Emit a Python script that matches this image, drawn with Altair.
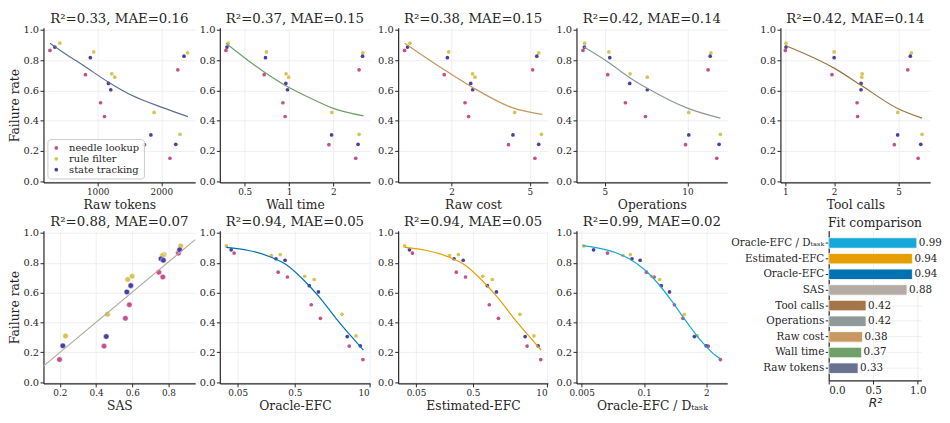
import altair as alt
import pandas as pd

# ---------------- data ----------------
TASKS = ["needle lookup", "rule filter", "state tracking"]
TASK_COLORS = ["#C4508C", "#D9C355", "#4B3FA3"]

task_col = ["needle lookup"] * 7 + ["rule filter"] * 7 + ["state tracking"] * 7
failure_rate = [0.865, 0.737, 0.705, 0.519, 0.428, 0.242, 0.152,
                0.913, 0.855, 0.849, 0.710, 0.688, 0.455, 0.310,
                0.887, 0.827, 0.817, 0.647, 0.605, 0.306, 0.244]

raw_tokens = [251, 2259, 808, 1046, 1108, 1737, 2135,
              406, 938, 2413, 1222, 1268, 1887, 2294,
              328, 2356, 885, 1170, 1206, 1836, 2227]
wall_time = [0.373, 2.99, 0.678, 0.908, 0.941, 1.866, 2.837,
             0.386, 0.703, 3.17, 0.955, 0.995, 1.954, 2.99,
             0.379, 3.158, 0.692, 0.951, 0.976, 1.945, 2.944]
raw_cost = [1.154, 5.16, 1.834, 2.34, 2.44, 3.89, 5.30,
            1.228, 1.932, 5.54, 2.556, 2.63, 4.18, 5.72,
            1.194, 5.42, 1.903, 2.50, 2.56, 4.10, 5.54]
operations = [4.16, 11.89, 5.12, 5.94, 7.03, 9.84, 12.79,
              4.22, 5.17, 12.18, 6.18, 7.14, 10.11, 13.18,
              4.21, 12.10, 5.21, 6.16, 7.14, 10.11, 13.04]
tool_calls = [1.00, 5.69, 1.94, 2.77, 2.79, 4.70, 6.59,
              1.01, 2.00, 5.99, 2.98, 2.96, 4.93, 6.97,
              1.01, 5.90, 2.00, 2.93, 2.93, 4.93, 6.84]
sas = [0.855, 0.747, 0.769, 0.584, 0.562, 0.444, 0.198,
       0.868, 0.776, 0.767, 0.599, 0.575, 0.463, 0.231,
       0.862, 0.759, 0.772, 0.592, 0.570, 0.456, 0.216]
oracle_efc = [0.0432, 0.255, 0.370, 0.966, 1.40, 4.46, 7.75,
              0.0316, 0.277, 0.194, 0.742, 1.089, 3.33, 5.88,
              0.0384, 0.233, 0.337, 0.894, 1.29, 4.12, 6.97]
estimated_efc = [0.0432, 0.255, 0.370, 0.966, 1.40, 4.46, 7.75,
                 0.0316, 0.277, 0.194, 0.742, 1.089, 3.33, 5.88,
                 0.0384, 0.233, 0.337, 0.894, 1.29, 4.12, 6.97]
oracle_efc_per_d = [0.0173, 0.112, 0.163, 0.4295, 0.6457, 2.19, 3.91,
                    0.00553, 0.0518, 0.0362, 0.1436, 0.212, 0.687, 1.289,
                    0.00885, 0.0561, 0.0829, 0.2297, 0.3394, 1.119, 1.967]

# fitted curves
fit_tokens_x = [251, 520, 777, 1170, 1551, 2000, 2418]
fit_tokens_y = [0.913, 0.835, 0.765, 0.655, 0.565, 0.49, 0.427]
fit_wall_x = [0.373, 0.678, 0.951, 1.38, 1.954, 3.21]
fit_wall_y = [0.913, 0.722, 0.631, 0.552, 0.485, 0.432]
fit_cost_x = [1.154, 1.834, 2.52, 4.10, 5.78]
fit_cost_y = [0.913, 0.737, 0.625, 0.485, 0.442]
fit_ops_x = [4.2, 5.21, 6.16, 7.14, 10.1, 13.18]
fit_ops_y = [0.887, 0.78, 0.685, 0.615, 0.48, 0.417]
fit_tools_x = [1.0, 2.0, 2.93, 4.93, 6.97]
fit_tools_y = [0.898, 0.748, 0.635, 0.481, 0.417]
fit_sas_x = [0.109, 0.948]
fit_sas_y = [0.108, 0.955]
fit_efc_x = [0.0316, 0.187, 0.36, 0.697, 1.34, 2.595, 5.03, 7.9]
fit_efc_y = [0.903, 0.839, 0.785, 0.688, 0.570, 0.43, 0.30, 0.215]
fit_d_x = [0.00527, 0.0125, 0.025, 0.05, 0.1, 0.2, 0.4, 0.8, 1.6, 3.2, 3.91]
fit_d_y = [0.915, 0.895, 0.869, 0.825, 0.757, 0.658, 0.533, 0.397, 0.272, 0.175, 0.158]

bar_metrics = ["Oracle-EFC / D\u209c\u2090\u209b\u2096", "Estimated-EFC", "Oracle-EFC", "SAS",
               "Tool calls", "Operations", "Raw cost", "Wall time", "Raw tokens"]
bar_r2 = [0.99, 0.94, 0.94, 0.88, 0.42, 0.42, 0.38, 0.37, 0.33]
bar_colors = ["#17A8DA", "#E69F00", "#0072B2", "#B4ACA4", "#A5754A",
              "#8E9A9A", "#C99861", "#6FA06A", "#66728F"]

SERIF = "DejaVu Serif"
YDOM = [-0.008, 1.015]
YTICKS = [0, 0.2, 0.4, 0.6, 0.8, 1.0]
H1 = 157
H2 = 155


def scatter_panel(xvals, xtitle, stype, domain, ticks, lx, ly, lcolor, title,
                  width, height, ytitle=False, legend=False, big=False, fmt="~g"):
    df = pd.DataFrame({"x": xvals, "y": failure_rate, "task": task_col})
    ldf = pd.DataFrame({"x": lx, "y": ly})
    xs = alt.Scale(type=stype, domain=domain, nice=False, zero=False)
    ys = alt.Scale(domain=YDOM, nice=False, zero=False)
    xaxis = alt.Axis(values=ticks, tickCount=20, format=fmt, title=xtitle, labelOverlap=False)
    if ytitle:
        yaxis = alt.Axis(values=YTICKS, tickCount=20, format=".1f", title="Failure rate",
                         labelOverlap=False, titlePadding=1.5)
    else:
        yaxis = alt.Axis(values=YTICKS, tickCount=20, format=".1f", title=None,
                         labelOverlap=False)
    if legend:
        leg = alt.Legend(orient="bottom-left", title=None, offset=4, padding=4,
                         strokeColor="#cccccc", fillColor="rgba(255,255,255,0.85)",
                         cornerRadius=3, labelFont=SERIF, labelFontSize=10,
                         labelColor="#262626", symbolSize=14, symbolType="circle",
                         symbolStrokeWidth=0, rowPadding=1, labelOffset=8)
    else:
        leg = None
    if big:
        pts = alt.Chart(df).mark_point(filled=True, size=32, opacity=1, stroke="white",
                                       strokeWidth=0.5)
    else:
        pts = alt.Chart(df).mark_point(filled=True, size=14, opacity=1)
    pts = pts.encode(
        x=alt.X("x:Q", scale=xs, axis=xaxis),
        y=alt.Y("y:Q", scale=ys, axis=yaxis),
        color=alt.Color("task:N", scale=alt.Scale(domain=TASKS, range=TASK_COLORS), legend=leg),
    )
    line = alt.Chart(ldf).mark_line(color=lcolor, strokeWidth=1.2, interpolate="monotone").encode(
        x=alt.X("x:Q", scale=xs),
        y=alt.Y("y:Q", scale=ys),
    )
    return alt.layer(pts, line).properties(
        width=width, height=height,
        title=alt.TitleParams(title, offset=0),
    )


def spacer(w, h):
    return alt.Chart(pd.DataFrame({"v": [0]})).mark_point(opacity=0).encode(
        x=alt.X("v:Q", axis=None), y=alt.Y("v:Q", axis=None)
    ).properties(width=w, height=h)


p1 = scatter_panel(raw_tokens, "Raw tokens", "linear", [149, 2532], [1000, 2000],
                   fit_tokens_x, fit_tokens_y, "#5F6E8E", "R\u00b2=0.33, MAE=0.16", 154, H1,
                   ytitle=True, legend=True, fmt="d")
p2 = scatter_panel(wall_time, "Wall time", "log", [0.339, 3.55], [0.5, 1, 2],
                   fit_wall_x, fit_wall_y, "#6E9E68", "R\u00b2=0.37, MAE=0.15", 152.5, H1)
p3 = scatter_panel(raw_cost, "Raw cost", "log", [1.07, 6.17], [2, 5],
                   fit_cost_x, fit_cost_y, "#C8965E", "R\u00b2=0.38, MAE=0.15", 152, H1)
p4 = scatter_panel(operations, "Operations", "log", [3.94, 13.96], [5, 10],
                   fit_ops_x, fit_ops_y, "#8C9898", "R\u00b2=0.42, MAE=0.14", 153, H1)
p5 = scatter_panel(tool_calls, "Tool calls", "log", [0.933, 7.82], [1, 2, 5],
                   fit_tools_x, fit_tools_y, "#A0703F", "R\u00b2=0.42, MAE=0.14", 152, H1)

q1 = scatter_panel(sas, "SAS", "linear", [0.109, 0.948], [0.2, 0.4, 0.6, 0.8],
                   fit_sas_x, fit_sas_y, "#B3ABA3", "R\u00b2=0.88, MAE=0.07", 154, H2,
                   ytitle=True, big=True, fmt=".1f")
q2 = scatter_panel(oracle_efc, "Oracle-EFC", "log", [0.0243, 10.34], [0.05, 0.5, 10],
                   fit_efc_x, fit_efc_y, "#0072B2", "R\u00b2=0.94, MAE=0.05", 152.5, H2)
q3 = scatter_panel(estimated_efc, "Estimated-EFC", "log", [0.0243, 10.34], [0.05, 0.5, 10],
                   fit_efc_x, fit_efc_y, "#E69F00", "R\u00b2=0.94, MAE=0.05", 152, H2)
q4 = scatter_panel(oracle_efc_per_d, "Oracle-EFC / D\u209c\u2090\u209b\u2096", "log", [0.0039, 5.43],
                   [0.005, 0.1, 2], fit_d_x, fit_d_y, "#17A8DA", "R\u00b2=0.99, MAE=0.02", 153, H2)

bar_df = pd.DataFrame({"metric": bar_metrics, "r2": bar_r2})
ysc = alt.Scale(domain=bar_metrics, paddingInner=0.33, paddingOuter=0.45)
xsc = alt.Scale(domain=[0, 1.04], nice=False, zero=True)
bars = alt.Chart(bar_df).mark_bar(stroke="white", strokeWidth=0.8).encode(
    y=alt.Y("metric:N", sort=bar_metrics, scale=ysc,
            axis=alt.Axis(title=None, labelFontSize=10.5, grid=True, labelOverlap=False)),
    x=alt.X("r2:Q", scale=xsc,
            axis=alt.Axis(values=[0, 0.5, 1.0], tickCount=20, format=".1f", title="R\u00b2",
                          labelFontSize=10.5, titleFont="DejaVu Sans",
                          titleFontStyle="italic", titlePadding=1, labelOverlap=False)),
    color=alt.Color("metric:N", scale=alt.Scale(domain=bar_metrics, range=bar_colors), legend=None),
)
labels = alt.Chart(bar_df).mark_text(align="left", dx=2, font=SERIF, fontSize=10.5,
                                      color="#262626").encode(
    y=alt.Y("metric:N", sort=bar_metrics, scale=ysc),
    x=alt.X("r2:Q", scale=xsc),
    text=alt.Text("r2:Q", format=".2f"),
)
barchart = alt.layer(bars, labels).properties(
    width=94, height=152, title=alt.TitleParams("Fit comparison", offset=1, fontSize=12.5)
)

row1 = alt.HConcatChart(
    hconcat=[p1, spacer(25, H1), p2, spacer(27.7, H1), p3, spacer(28.6, H1), p4,
             spacer(53.4, H1), p5],
    spacing=0, bounds="flush",
).resolve_scale(color="independent").resolve_legend(color="independent")
row2 = alt.HConcatChart(
    hconcat=[q1, spacer(25, H2), q2, spacer(27.7, H2), q3, spacer(28.6, H2), q4,
             spacer(102.8, H2), barchart],
    spacing=0, bounds="flush",
).resolve_scale(color="independent").resolve_legend(color="independent")

chart = alt.VConcatChart(vconcat=[row1, row2], spacing=3).resolve_scale(
    color="independent").resolve_legend(color="independent").properties(
    padding={"left": 0, "top": 0, "right": 0, "bottom": 0}
).configure_view(stroke=None).configure_axis(
    domainColor="#262626", tickColor="#262626", labelColor="#262626",
    titleColor="#262626", gridColor="#ebebeb", gridWidth=0.8,
    labelFont=SERIF, titleFont=SERIF, titleFontWeight="normal", titleFontSize=12.5,
    tickSize=3.5, domainWidth=1.2, labelPadding=1.5, titlePadding=2,
).configure_axisX(labelFontSize=9).configure_axisY(labelFontSize=10).configure_title(
    font=SERIF, fontSize=13.5, fontWeight="normal", color="#262626"
)

chart.save("out.html", embed_options={"renderer": "svg", "actions": False})
